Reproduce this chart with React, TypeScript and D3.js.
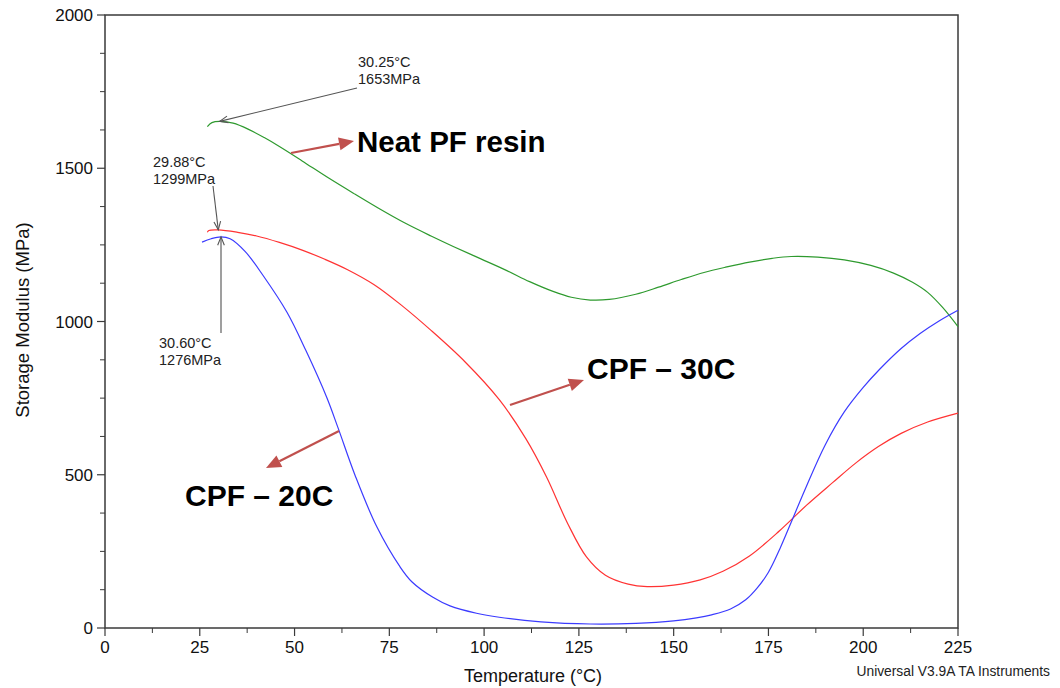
import React from "react";
import * as d3 from "d3";

// Storage modulus (MPa) versus temperature (°C) for three resin systems
const neatPF: [number, number][] = [
  [27.0, 1636], [28.2, 1649], [30.25, 1653], [33.8, 1647], [38, 1626], [42, 1600],
  [46, 1571], [52, 1524], [59, 1468], [66, 1415], [72.5, 1367], [79, 1322],
  [86, 1279], [92, 1244], [99, 1205], [106, 1166], [112, 1130], [118, 1099],
  [123, 1079], [128, 1070], [133, 1072], [140, 1089], [146, 1112], [152, 1137],
  [158, 1160], [164, 1178], [170, 1194], [176, 1206], [181, 1212], [188, 1210],
  [195, 1201], [202, 1183], [208, 1158], [213, 1128], [217, 1095], [221, 1045],
  [225, 983],
];

const cpf30: [number, number][] = [
  [27.0, 1291], [27.4, 1297], [29.88, 1299], [35, 1291], [40, 1279], [46, 1258],
  [52, 1233], [58, 1203], [64, 1169], [71, 1120], [78, 1055], [86, 971],
  [95, 868], [104, 745], [111, 618], [116.5, 492], [122, 342], [127, 232],
  [132, 172], [138, 143], [143, 135], [150, 140], [157, 157], [163, 185],
  [170, 235], [178, 318], [185, 400], [192, 475], [198, 538], [204, 592],
  [210, 635], [217, 672], [225, 701],
];

const cpf20: [number, number][] = [
  [25.6, 1259], [28, 1270], [30.6, 1276], [33, 1270], [37, 1228], [41.7, 1150],
  [48, 1030], [53, 905], [58.5, 752], [61.5, 652], [66, 497], [71.7, 330],
  [77.8, 200], [81, 150], [86.5, 100], [91, 72], [98, 48], [104, 35], [115, 20],
  [128, 13], [140, 15], [150, 23], [156, 33], [160, 43], [165, 62], [169, 92],
  [172, 130], [175, 182], [178, 258], [181, 345], [185, 462], [190, 598],
  [195, 705], [200, 785], [204.4, 845], [210, 912], [215, 961], [220, 1002],
  [225, 1037],
];

const xTicks = [0, 25, 50, 75, 100, 125, 150, 175, 200, 225];
const yTicks = [0, 500, 1000, 1500, 2000];

// Peak callouts: temperature, modulus, where the label text sits
const peaks = [
  { t: 30.25, v: 1653, lines: ["30.25°C", "1653MPa"], tx: 358, ty: 67, from: [357, 88] },
  { t: 29.88, v: 1299, lines: ["29.88°C", "1299MPa"], tx: 153, ty: 167, from: [213, 186] },
  { t: 30.6, v: 1276, lines: ["30.60°C", "1276MPa"], tx: 159, ty: 348, from: [221, 333] },
];

const seriesNames = ["Neat PF resin", "CPF – 30C", "CPF – 20C"];

const W = 1060;
const H = 688;
const FONT = "'Liberation Sans', Arial, Helvetica, sans-serif";

export default function App() {
  const x = d3.scaleLinear().domain([0, 225]).range([105, 958]);
  const y = d3.scaleLinear().domain([0, 2000]).range([628, 15]);

  const line = d3
    .line<[number, number]>()
    .x((d) => x(d[0]))
    .y((d) => y(d[1]))
    .curve(d3.curveCatmullRom.alpha(0.5));

  const xMinor = d3.range(12.5, 225, 25);
  const yMinor = d3.range(0, 2000, 125).filter((v) => v % 500 !== 0);

  const axisColor = "#3a3a3a";

  const openHead = (x1: number, y1: number, x2: number, y2: number) => {
    const a = Math.atan2(y2 - y1, x2 - x1);
    const L = 9;
    const s = 0.38;
    const p1 = [x2 - L * Math.cos(a - s), y2 - L * Math.sin(a - s)];
    const p2 = [x2 - L * Math.cos(a + s), y2 - L * Math.sin(a + s)];
    return `M${p1[0]},${p1[1]}L${x2},${y2}L${p2[0]},${p2[1]}`;
  };

  const redArrow = (x1: number, y1: number, x2: number, y2: number, key: string) => {
    const a = Math.atan2(y2 - y1, x2 - x1);
    const L = 15;
    const hw = 6.5;
    const bx = x2 - L * Math.cos(a);
    const by = y2 - L * Math.sin(a);
    const nx = -Math.sin(a);
    const ny = Math.cos(a);
    const tri = `M${x2},${y2}L${bx + nx * hw},${by + ny * hw}L${bx - nx * hw},${by - ny * hw}Z`;
    return (
      <g key={key}>
        <line x1={x1} y1={y1} x2={bx} y2={by} stroke="#c0504d" strokeWidth={2.2} />
        <path d={tri} fill="#c0504d" />
      </g>
    );
  };

  return (
    <svg
      width={W}
      height={H}
      style={{ position: "absolute", left: 0, top: 0, background: "#fff" }}
      fontFamily={FONT}
    >
      {/* plot frame */}
      <rect x={105} y={15} width={853} height={613} fill="none" stroke={axisColor} strokeWidth={1.5} />

      {/* x axis ticks */}
      {xTicks.map((t) => (
        <g key={"xt" + t}>
          <line x1={x(t)} x2={x(t)} y1={628} y2={636} stroke={axisColor} strokeWidth={1.2} />
          <text x={x(t)} y={653} fontSize={17} textAnchor="middle" fill="#111">
            {t}
          </text>
        </g>
      ))}
      {xMinor.map((t) => (
        <line key={"xm" + t} x1={x(t)} x2={x(t)} y1={628} y2={633} stroke={axisColor} strokeWidth={1} />
      ))}

      {/* y axis ticks */}
      {yTicks.map((v) => (
        <g key={"yt" + v}>
          <line x1={97} x2={105} y1={y(v)} y2={y(v)} stroke={axisColor} strokeWidth={1.2} />
          <text x={93} y={y(v) + 6} fontSize={17} textAnchor="end" fill="#111">
            {v}
          </text>
        </g>
      ))}
      {yMinor.map((v) => (
        <line key={"ym" + v} x1={100} x2={105} y1={y(v)} y2={y(v)} stroke={axisColor} strokeWidth={1} />
      ))}

      {/* axis titles */}
      <text x={533} y={682} fontSize={18} textAnchor="middle" fill="#111">
        Temperature (°C)
      </text>
      <text transform="translate(29,320) rotate(-90)" fontSize={18.5} textAnchor="middle" fill="#111">
        Storage Modulus (MPa)
      </text>
      <text x={1050} y={676} fontSize={13.8} textAnchor="end" fill="#222">
        Universal V3.9A TA Instruments
      </text>

      {/* curves */}
      <path d={line(neatPF) || ""} fill="none" stroke="#2e9a2e" strokeWidth={1.2} />
      <path d={line(cpf30) || ""} fill="none" stroke="#ff3333" strokeWidth={1.2} />
      <path d={line(cpf20) || ""} fill="none" stroke="#3b3bff" strokeWidth={1.2} />

      {/* peak callouts */}
      {peaks.map((p, i) => {
        const tx = x(p.t);
        const ty = y(p.v);
        return (
          <g key={"pk" + i}>
            <line x1={p.from[0]} y1={p.from[1]} x2={tx} y2={ty} stroke="#555" strokeWidth={1.1} />
            <path d={openHead(p.from[0], p.from[1], tx, ty)} fill="none" stroke="#555" strokeWidth={1.1} />
            {p.lines.map((s, j) => (
              <text key={j} x={p.tx} y={p.ty + j * 17} fontSize={14.5} fill="#222">
                {s}
              </text>
            ))}
          </g>
        );
      })}

      {/* series labels */}
      {redArrow(291, 153, 354, 141, "a0")}
      <text x={357} y={152} fontSize={29.5} fontWeight="bold" fill="#000">
        {seriesNames[0]}
      </text>
      {redArrow(510, 405, 584, 380, "a1")}
      <text x={587} y={379} fontSize={30} fontWeight="bold" fill="#000">
        {seriesNames[1]}
      </text>
      {redArrow(339, 431, 266, 468, "a2")}
      <text x={185} y={506} fontSize={30} fontWeight="bold" fill="#000">
        {seriesNames[2]}
      </text>
    </svg>
  );
}
